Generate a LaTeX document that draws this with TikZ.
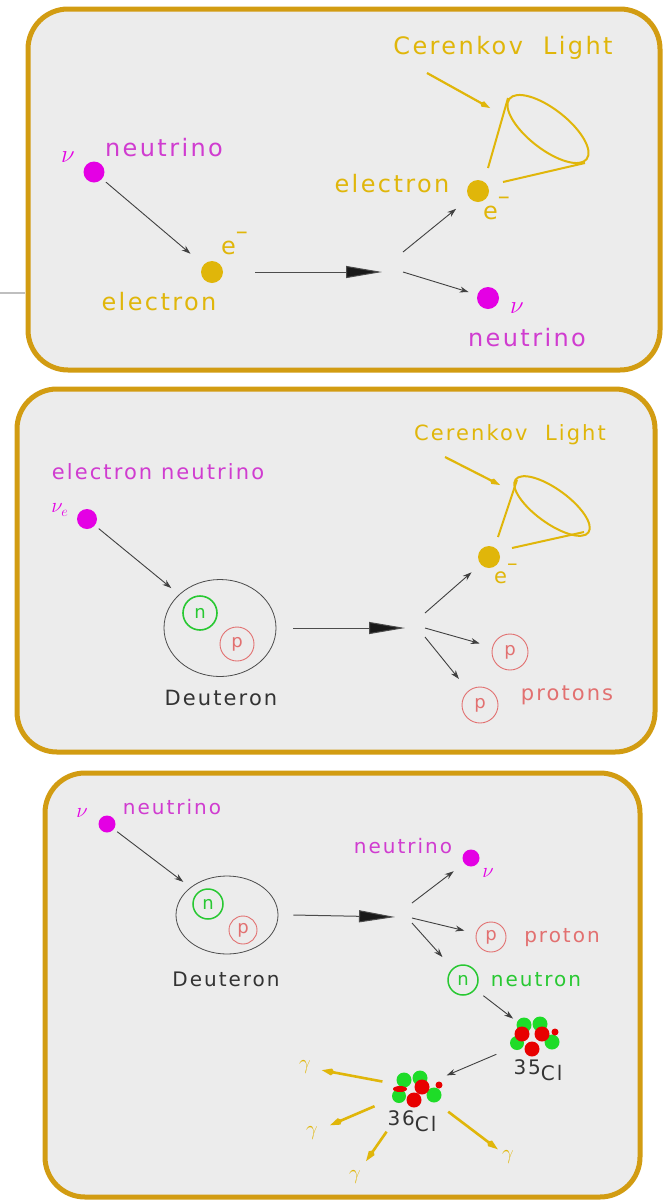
\documentclass[tikz,border=0pt]{standalone}
\usepackage{fontspec}
\usepackage{xcolor}
\usepackage{tikz}
\usetikzlibrary{arrows.meta}
\usetikzlibrary{shapes.geometric}
\newfontfamily\slidefont{DejaVu Sans}[LetterSpace=10]
\definecolor{rim}{RGB}{210,156,18}
\definecolor{paper}{RGB}{236,236,236}
\definecolor{amber}{RGB}{224,182,10}
\definecolor{mag}{RGB}{228,0,228}
\definecolor{magtxt}{RGB}{208,60,208}
\definecolor{ngreen}{RGB}{40,200,50}
\definecolor{ppink}{RGB}{226,112,112}
\definecolor{nred}{RGB}{232,0,0}
\definecolor{ngreenf}{RGB}{30,220,40}

\begin{document}
\begin{tikzpicture}[x=1pt,y=-1pt,
  font=\slidefont,
  panel/.style={draw=rim,line width=5pt,fill=paper,rounded corners=40pt},
  ball/.style={circle,fill,inner sep=0pt,minimum size=#1},
  nucleon/.style={circle,draw,inner sep=0pt,minimum size=#1,font=\slidefont\fontsize{18}{18}\selectfont},
  deut/.style={ellipse,draw=black!70,line width=0.8pt,inner sep=0pt},
  txtbig/.style={font=\slidefont\fontsize{24}{28}\selectfont},
  txtmid/.style={font=\slidefont\fontsize{21}{25}\selectfont},
  txtsmall/.style={font=\slidefont\fontsize{20}{24}\selectfont},
  arr/.style={draw=black!75,line width=0.9pt,-{Stealth[length=9pt,width=6pt]}},
  bigarr/.style={draw=black!70,line width=1pt,-{Triangle[length=36pt,width=12pt,fill=black!90]}},
  gptr/.style={draw=amber,line width=2.2pt,-{Kite[length=11pt,width=6pt]}},
  cone/.style={draw=amber,line width=2pt},
  garr/.style={draw=amber,line width=2.6pt,-{Kite[length=13pt,width=7pt]}}]

  \useasboundingbox (0,0) rectangle (669,1203);
  \fill[white] (0,0) rectangle (669,1203);

  % --- neutrino-electron scattering ---
  \draw[panel] (28,9) rectangle (660,370);
  \draw[black!25,line width=1.5pt] (0,293) -- (25,293);

  \node[ball=21pt,mag] (nuA) at (94,172) {};
  \node[txtbig,mag] (nuAsym) at (68,157) {$\nu$};
  \node[txtbig,magtxt] (nuAlbl) at (164,148) {neutrino};
  \node[ball=22pt,amber] (eA) at (212,272) {};
  \node[txtbig,amber,anchor=base west,inner sep=0pt] (eAsym) at (221,254) {e\raisebox{.6em}{–}};
  \node[txtbig,amber] (eAlbl) at (159,302) {electron};
  \coordinate (hitA) at (382,272);
  \coordinate (forkAu) at (403,252);
  \coordinate (forkAd) at (403,272);
  \node[ball=22pt,amber] (eB) at (478,191) {};
  \node[txtbig,amber] (eBlbl) at (392,184) {electron};
  \node[txtbig,amber,anchor=base west,inner sep=0pt] (eBsym) at (483,219) {e\raisebox{.6em}{–}};
  \node[ball=22pt,mag] (nuB) at (488,298) {};
  \node[txtbig,mag] (nuBsym) at (517,308) {$\nu$};
  \node[txtbig,magtxt] (nuBlbl) at (527,338) {neutrino};
  \node[txtbig,amber] (cerA) at (503,48) {Cerenkov\ \ Light};
  \coordinate (ptrA) at (427,73);
  \coordinate (coneA) at (490,108);

  % light cone
  \draw[cone,rotate around={-38:(548,129)}] (548,129) ellipse [x radius=49,y radius=20];
  \draw[cone] (488,168) -- (508,98);
  \draw[cone] (503,182) -- (585,163);
  \draw[gptr] (ptrA) -- (coneA);

  \draw[arr,shorten <=5pt,shorten >=17pt] (nuA) -- (eA);
  \draw[bigarr] ([xshift=32pt]eA.east) -- (hitA);
  \draw[arr,shorten >=17pt] (forkAu) -- (eB);
  \draw[arr,shorten >=9pt] (forkAd) -- (nuB);

  % --- charged current on deuteron ---
  \draw[panel] (17,389) rectangle (655,752);

  \node[txtmid,amber] (cerB) at (510,435) {Cerenkov\ \ Light};
  \coordinate (ptrB) at (445,457);
  \coordinate (coneB) at (500,485);
  \draw[cone,rotate around={-36:(552,506)}] (552,506) ellipse [x radius=45,y radius=17];
  \draw[cone] (498,537) -- (517,480);
  \draw[cone] (512,548) -- (584,532);
  \draw[gptr] (ptrB) -- (coneB);

  \node[txtmid,magtxt] (nuClbl) at (158,472) {electron neutrino};
  \node[ball=20pt,mag] (nuC) at (87,519) {};
  \node[txtmid,mag] (nuCsym) at (60,510) {$\nu_e$};
  \node[deut,minimum width=112pt,minimum height=97pt] (deutC) at (220,628) {};
  \node[nucleon=34pt,ngreen,line width=1.6pt] (nC) at (200,613) {n};
  \node[nucleon=34pt,ppink,line width=0.9pt] (pC) at (237,644) {p};
  \node[txtmid,black!80] (deutClbl) at (221,698) {Deuteron};
  \coordinate (hitC) at (405,628);
  \coordinate (forkCu) at (425,613);
  \coordinate (forkCm) at (425,628);
  \coordinate (forkCd) at (425,637);
  \node[ball=22pt,amber] (eC) at (489,557) {};
  \node[txtmid,amber,anchor=base west,inner sep=0pt] (eCsym) at (494,583) {e\raisebox{.6em}{–}};
  \node[nucleon=36pt,ppink,line width=0.9pt] (pC1) at (510,652) {p};
  \node[nucleon=36pt,ppink,line width=0.9pt] (pC2) at (480,705) {p};
  \node[txtmid,ppink] (protlbl) at (567,695) {protons};

  \draw[arr,shorten <=5pt,shorten >=10pt] (nuC) -- (deutC);
  \draw[bigarr] ([xshift=17pt]deutC.east) -- (hitC);
  \draw[arr,shorten >=12pt] (forkCu) -- (eC);
  \draw[arr,shorten >=13pt] (forkCm) -- (pC1);
  \draw[arr,shorten >=15pt] (forkCd) -- (pC2);

  % --- neutral current, neutron capture on chlorine ---
  \draw[panel] (45,773) rectangle (640,1197);

  \node[ball=17pt,mag] (nuD) at (107,824) {};
  \node[txtsmall,mag] (nuDsym) at (82,813) {$\nu$};
  \node[txtsmall,magtxt] (nuDlbl) at (172,807) {neutrino};
  \node[deut,minimum width=102pt,minimum height=78pt] (deutD) at (227,915) {};
  \node[nucleon=30pt,ngreen,line width=1.5pt] (nD) at (208,904) {n};
  \node[nucleon=28pt,ppink,line width=0.9pt] (pD) at (243,930) {p};
  \node[txtsmall,black!80] (deutDlbl) at (226,979) {Deuteron};
  \coordinate (hitD) at (395,917);
  \coordinate (forkDu) at (412,903);
  \coordinate (forkDm) at (412,918);
  \coordinate (forkDd) at (412,923);
  \node[ball=17pt,mag] (nuE) at (471,858) {};
  \node[txtsmall,magtxt] (nuElbl) at (403,846) {neutrino};
  \node[txtsmall,mag] (nuEsym) at (488,873) {$\nu$};
  \node[nucleon=30pt,ppink,line width=0.9pt] (pE) at (491,937) {p};
  \node[txtsmall,ppink] (pElbl) at (562,938) {proton};
  \node[nucleon=30pt,ngreen,line width=1.5pt] (nE) at (463,980) {n};
  \node[txtsmall,ngreen] (nElbl) at (536,980) {neutron};

  \node[circle,minimum size=44pt,inner sep=0pt] (cl35) at (537,1037) {};
  \node[circle,minimum size=44pt,inner sep=0pt] (cl36) at (417,1088) {};
  \begin{scope}[shift={(cl35)}]
    \fill[ngreenf] (-13,-12) circle (7.5) (3,-13) circle (7.5) (15,5) circle (7.5) (-20,6) circle (7);
    \fill[nred] (-15,-3) circle (7.5) (5,-3) circle (7.5) (-5,12) circle (7.5) (18,-5) circle (3.5);
  \end{scope}
  \begin{scope}[shift={(cl36)}]
    \fill[ngreenf] (-13,-8) circle (7.5) (3,-10) circle (7.5) (17,7) circle (7.5) (-18,8) circle (7);
    \fill[nred] (5,-1) circle (7.5) (-3,12) circle (7.5) (22,-3) circle (3.5) (-17,1) ellipse [x radius=7,y radius=3];
  \end{scope}
  \node[txtsmall,black!80] (cl35lbl) at (538,1070) {\raisebox{.3em}{35}Cl};
  \node[txtsmall,black!80] (cl36lbl) at (412,1121) {\raisebox{.3em}{36}Cl};

  \node[txtsmall,amber,inner sep=1pt] (g1) at (305,1067) {$\gamma$};
  \node[txtsmall,amber,inner sep=1pt] (g2) at (312,1133) {$\gamma$};
  \node[txtsmall,amber,inner sep=1pt] (g3) at (355,1177) {$\gamma$};
  \node[txtsmall,amber,inner sep=1pt] (g4) at (508,1157) {$\gamma$};

  \draw[arr,shorten <=4pt,shorten >=9pt] (nuD) -- (deutD);
  \draw[bigarr] ([xshift=15pt]deutD.east) -- (hitD);
  \draw[arr,shorten >=13pt] (forkDu) -- (nuE);
  \draw[arr,shorten >=12pt] (forkDm) -- (pE);
  \draw[arr,shorten >=15pt] (forkDd) -- (nE);
  \draw[arr,shorten <=10pt,shorten >=8pt] (nE) -- (cl35);
  \draw[arr,shorten <=22pt,shorten >=10pt] (cl35) -- (cl36);
  \draw[garr,shorten <=13pt,shorten >=10pt] (cl36) -- (g1);
  \draw[garr,shorten <=24pt,shorten >=12pt] (cl36) -- (g2);
  \draw[garr,shorten <=31pt,shorten >=10pt] (cl36) -- (g3);
  \draw[garr,shorten <=17pt,shorten >=4pt] (cl36) -- (g4);

\end{tikzpicture}
\end{document}
